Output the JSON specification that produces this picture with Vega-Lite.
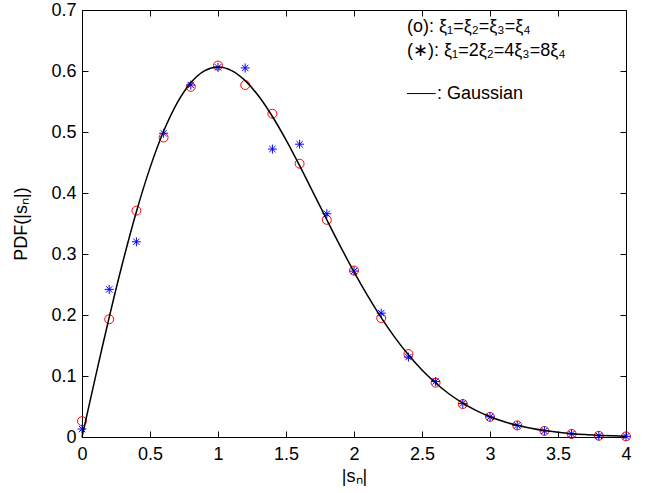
{
  "$schema": "https://vega.github.io/schema/vega-lite/v6.json",
  "width": 544,
  "height": 427,
  "autosize": "none",
  "padding": {"left": 82, "top": 10, "right": 24, "bottom": 56},
  "background": "white",
  "config": {
    "view": {"stroke": "black", "strokeWidth": 1},
    "axis": {
      "grid": false,
      "domain": false,
      "tickColor": "black",
      "tickSize": -6,
      "labelFlush": false,
      "labelFont": "Liberation Sans",
      "labelFontSize": 18,
      "labelColor": "black",
      "titleFont": "Liberation Sans",
      "titleFontSize": 18,
      "titleFontWeight": "normal",
      "titleColor": "black"
    }
  },
  "datasets": {
    "curve": [
      {"x": 0, "y": 0}, {"x": 0.05, "y": 0.0499}, {"x": 0.1, "y": 0.0995}, {"x": 0.15, "y": 0.1483},
      {"x": 0.2, "y": 0.1960}, {"x": 0.3, "y": 0.2868}, {"x": 0.4, "y": 0.3693}, {"x": 0.5, "y": 0.4412},
      {"x": 0.6, "y": 0.5012}, {"x": 0.7, "y": 0.5479}, {"x": 0.8, "y": 0.5809}, {"x": 0.9, "y": 0.6003},
      {"x": 1.0, "y": 0.6065}, {"x": 1.1, "y": 0.6007}, {"x": 1.2, "y": 0.5842}, {"x": 1.3, "y": 0.5585},
      {"x": 1.4, "y": 0.5254}, {"x": 1.5, "y": 0.4870}, {"x": 1.6, "y": 0.4448}, {"x": 1.7, "y": 0.4007},
      {"x": 1.8, "y": 0.3562}, {"x": 1.9, "y": 0.3125}, {"x": 2.0, "y": 0.2707}, {"x": 2.1, "y": 0.2316},
      {"x": 2.2, "y": 0.1956}, {"x": 2.3, "y": 0.1633}, {"x": 2.4, "y": 0.1347}, {"x": 2.5, "y": 0.1098},
      {"x": 2.6, "y": 0.0885}, {"x": 2.7, "y": 0.0705}, {"x": 2.8, "y": 0.0556}, {"x": 2.9, "y": 0.0433},
      {"x": 3.0, "y": 0.0333}, {"x": 3.1, "y": 0.0254}, {"x": 3.2, "y": 0.0191}, {"x": 3.3, "y": 0.0142},
      {"x": 3.4, "y": 0.0105}, {"x": 3.5, "y": 0.0077}, {"x": 3.6, "y": 0.0055}, {"x": 3.7, "y": 0.0039},
      {"x": 3.8, "y": 0.0028}, {"x": 3.9, "y": 0.0019}, {"x": 4.0, "y": 0.0013}
    ],
    "circ": [
      {"x": 0, "y": 0.026}, {"x": 0.2, "y": 0.193}, {"x": 0.4, "y": 0.371}, {"x": 0.6, "y": 0.491},
      {"x": 0.8, "y": 0.574}, {"x": 1.0, "y": 0.609}, {"x": 1.2, "y": 0.577}, {"x": 1.4, "y": 0.530},
      {"x": 1.6, "y": 0.448}, {"x": 1.8, "y": 0.356}, {"x": 2.0, "y": 0.273}, {"x": 2.2, "y": 0.195},
      {"x": 2.4, "y": 0.136}, {"x": 2.6, "y": 0.089}, {"x": 2.8, "y": 0.054}, {"x": 3.0, "y": 0.033},
      {"x": 3.2, "y": 0.019}, {"x": 3.4, "y": 0.010}, {"x": 3.6, "y": 0.005}, {"x": 3.8, "y": 0.002},
      {"x": 4.0, "y": 0.001}
    ],
    "star": [
      {"x": 0, "y": 0.013}, {"x": 0.2, "y": 0.242}, {"x": 0.4, "y": 0.320}, {"x": 0.6, "y": 0.498},
      {"x": 0.8, "y": 0.577}, {"x": 1.0, "y": 0.606}, {"x": 1.2, "y": 0.605}, {"x": 1.4, "y": 0.472},
      {"x": 1.6, "y": 0.480}, {"x": 1.8, "y": 0.366}, {"x": 2.0, "y": 0.272}, {"x": 2.2, "y": 0.203},
      {"x": 2.4, "y": 0.131}, {"x": 2.6, "y": 0.091}, {"x": 2.8, "y": 0.055}, {"x": 3.0, "y": 0.033},
      {"x": 3.2, "y": 0.019}, {"x": 3.4, "y": 0.010}, {"x": 3.6, "y": 0.005}, {"x": 3.8, "y": 0.002},
      {"x": 4.0, "y": 0.001}
    ],
    "legtext": [
      {"x": 2.39, "y": 0.672, "t": "(o): ξ₁=ξ₂=ξ₃=ξ₄"},
      {"x": 2.39, "y": 0.632, "t": "(∗): ξ₁=2ξ₂=4ξ₃=8ξ₄"},
      {"x": 2.61, "y": 0.563, "t": ": Gaussian"}
    ],
    "legline": [
      {"x": 2.39, "x2": 2.60, "y": 0.563}
    ]
  },
  "resolve": {"axis": {"x": "independent", "y": "independent"}},
  "layer": [
    {
      "data": {"name": "circ"},
      "mark": {"type": "point", "shape": "circle", "filled": false, "stroke": "#ff0000", "strokeWidth": 1, "size": 80, "opacity": 1, "clip": false},
      "encoding": {
        "x": {"field": "x", "type": "quantitative",
              "scale": {"domain": [0, 4], "nice": false, "zero": false},
              "axis": {"orient": "bottom", "values": [0, 0.5, 1, 1.5, 2, 2.5, 3, 3.5, 4], "format": "~g", "title": "|sₙ|", "labelPadding": 14, "titlePadding": 4}},
        "y": {"field": "y", "type": "quantitative",
              "scale": {"domain": [0, 0.7], "nice": false, "zero": false},
              "axis": {"orient": "left", "values": [0, 0.1, 0.2, 0.3, 0.4, 0.5, 0.6, 0.7], "format": "~g", "title": "PDF(|sₙ|)", "labelPadding": 12, "titlePadding": 20}}
      }
    },
    {
      "data": {"name": "circ"},
      "mark": {"type": "point", "opacity": 0, "size": 1},
      "encoding": {
        "x": {"field": "x", "type": "quantitative",
              "axis": {"orient": "top", "values": [0, 0.5, 1, 1.5, 2, 2.5, 3, 3.5, 4], "labels": false, "title": null}},
        "y": {"field": "y", "type": "quantitative",
              "axis": {"orient": "right", "values": [0, 0.1, 0.2, 0.3, 0.4, 0.5, 0.6, 0.7], "labels": false, "title": null}}
      }
    },
    {
      "data": {"name": "star"},
      "mark": {"type": "point", "shape": "M-1,0L1,0M0,-1L0,1M-0.7,-0.7L0.7,0.7M-0.7,0.7L0.7,-0.7", "filled": false, "stroke": "#0000ff", "strokeWidth": 1, "size": 81, "opacity": 1, "clip": false},
      "encoding": {
        "x": {"field": "x", "type": "quantitative", "axis": null},
        "y": {"field": "y", "type": "quantitative", "axis": null}
      }
    },
    {
      "data": {"name": "curve"},
      "mark": {"type": "line", "color": "black", "strokeWidth": 1.5, "interpolate": "monotone"},
      "encoding": {
        "x": {"field": "x", "type": "quantitative", "axis": null},
        "y": {"field": "y", "type": "quantitative", "axis": null}
      }
    },
    {
      "data": {"name": "legline"},
      "mark": {"type": "rule", "color": "black", "strokeWidth": 1},
      "encoding": {
        "x": {"field": "x", "type": "quantitative", "axis": null},
        "x2": {"field": "x2"},
        "y": {"field": "y", "type": "quantitative", "axis": null}
      }
    },
    {
      "data": {"name": "legtext"},
      "mark": {"type": "text", "align": "left", "baseline": "middle", "font": "Liberation Sans", "fontSize": 18, "color": "black"},
      "encoding": {
        "x": {"field": "x", "type": "quantitative", "axis": null},
        "y": {"field": "y", "type": "quantitative", "axis": null},
        "text": {"field": "t"}
      }
    }
  ]
}
